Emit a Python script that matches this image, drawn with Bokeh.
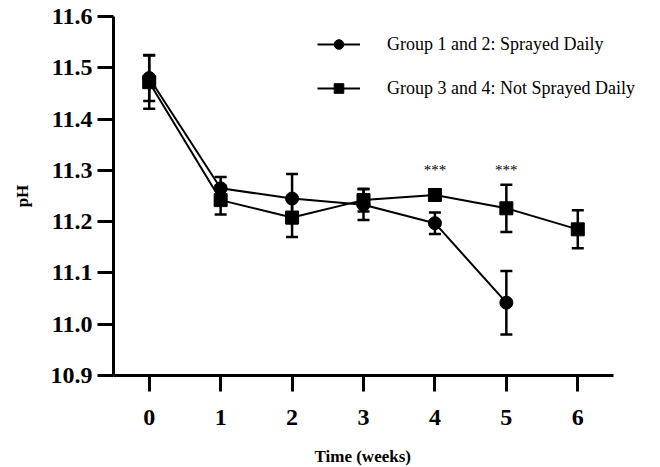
from bokeh.plotting import figure
from bokeh.models import ColumnDataSource, Whisker, TeeHead, Range1d, FixedTicker, Legend, LegendItem, Title
from bokeh.core.properties import value
from bokeh.embed import file_html
from bokeh.resources import INLINE

# ---- data ----
weeks1 = [0, 1, 2, 3, 4, 5]
ph1 = [11.480, 11.265, 11.245, 11.233, 11.197, 11.042]
err1 = [0.045, 0.022, 0.048, 0.030, 0.021, 0.062]

weeks2 = [0, 1, 2, 3, 4, 5, 6]
ph2 = [11.472, 11.242, 11.208, 11.242, 11.252, 11.226, 11.185]
err2 = [0.052, 0.028, 0.038, 0.022, 0.006, 0.046, 0.037]

label1 = "Group 1 and 2: Sprayed Daily"
label2 = "Group 3 and 4: Not Sprayed Daily"

sig_weeks = [4, 5]
sig_y = [11.30, 11.30]
sig_text = ["***", "***"]

x_ticks = [0, 1, 2, 3, 4, 5, 6]
y_ticks = [10.9, 11.0, 11.1, 11.2, 11.3, 11.4, 11.5, 11.6]
x_title = "Time (weeks)"
y_title = "pH"

SERIF = "Liberation Serif"

# frame spans to the right edge so the legend is not clipped; the x axis line is bounded
p = figure(width=660, height=467, output_backend="svg", toolbar_location=None,
           x_range=Range1d(-0.5, -0.5 + 547 * 7 / 500), y_range=Range1d(10.9, 11.6),
           min_border_left=113, min_border_right=0, min_border_top=16, min_border_bottom=92,
           frame_width=547, frame_height=359)
p.outline_line_color = None
p.grid.visible = False
p.background_fill_color = "white"
p.border_fill_color = "white"

s1 = ColumnDataSource(dict(x=weeks1, y=ph1, lo=[a - b for a, b in zip(ph1, err1)],
                           hi=[a + b for a, b in zip(ph1, err1)]))
s2 = ColumnDataSource(dict(x=weeks2, y=ph2, lo=[a - b for a, b in zip(ph2, err2)],
                           hi=[a + b for a, b in zip(ph2, err2)]))

for src in (s1, s2):
    w = Whisker(base="x", lower="lo", upper="hi", source=src,
                line_color="black", line_width=2.5,
                upper_head=TeeHead(size=12, line_width=2.5, line_color="black"),
                lower_head=TeeHead(size=12, line_width=2.5, line_color="black"))
    p.add_layout(w)

l1 = p.line("x", "y", source=s1, line_color="black", line_width=2)
m1 = p.scatter("x", "y", source=s1, marker="circle", size=13, fill_color="black", line_color="black")
l2 = p.line("x", "y", source=s2, line_color="black", line_width=2)
m2 = p.scatter("x", "y", source=s2, marker="square", size=13, fill_color="black", line_color="black")

p.text(x=sig_weeks, y=sig_y, text=sig_text, text_align="center", text_baseline="middle",
       text_font=value(SERIF), text_font_size="15px", text_color="black")

legend = Legend(items=[LegendItem(label=label1, renderers=[l1, m1]),
                       LegendItem(label=label2, renderers=[l2, m2])],
                location=(204, 275), padding=0, spacing=20,
                glyph_width=43, glyph_height=24, label_height=24, label_standoff=27,
                label_text_font=SERIF, label_text_font_size="18px", label_text_color="black",
                border_line_alpha=0, background_fill_alpha=0)
p.add_layout(legend, "center")

# axes
for ax in (p.xaxis[0], p.yaxis[0]):
    ax.axis_line_width = 3
    ax.axis_line_color = "black"
    ax.major_tick_line_width = 3
    ax.major_tick_line_color = "black"
    ax.minor_tick_line_color = None
    ax.major_tick_in = 0
    ax.major_tick_out = 16
    ax.major_label_text_font = SERIF
    ax.major_label_text_font_style = "bold"
    ax.major_label_text_font_size = "24px"
    ax.major_label_text_color = "black"
    ax.axis_label_text_font = SERIF
    ax.axis_label_text_font_style = "bold"
    ax.axis_label_text_font_size = "17px"
    ax.axis_label_text_color = "black"

p.xaxis.bounds = (-0.5, 6.5)
p.xaxis.ticker = FixedTicker(ticks=x_ticks)
p.yaxis.ticker = FixedTicker(ticks=y_ticks)
p.yaxis.major_label_overrides = {t: f"{t:.1f}" for t in y_ticks}
p.yaxis.axis_label = y_title
p.xaxis.major_label_standoff = 18
p.yaxis.major_label_standoff = 5
p.yaxis.axis_label_standoff = 16

# x-axis title centred under the bounded axis line (not under the wider frame)
xt = Title(text=x_title, align="left", offset=201, standoff=34,
           text_font=SERIF, text_font_style="bold", text_font_size="17px", text_color="black")
p.add_layout(xt, "below")

open("out.html", "w").write(file_html(p, INLINE))
